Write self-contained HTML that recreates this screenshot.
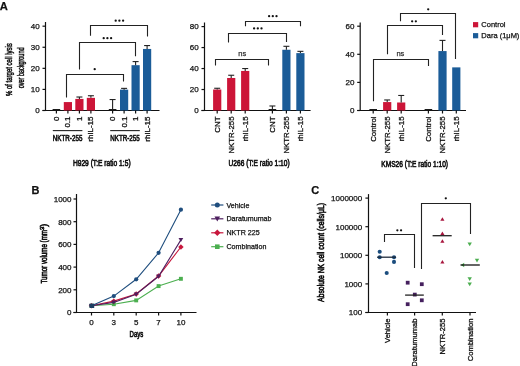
<!DOCTYPE html>
<html><head><meta charset="utf-8"><style>
html,body{margin:0;padding:0;background:#fff;}
svg{display:block;will-change:transform;}
text{font-family:"Liberation Sans",sans-serif;}
</style></head><body>
<svg width="520" height="366" viewBox="0 0 520 366" font-family="Liberation Sans, sans-serif">
<rect width="520" height="366" fill="#fff"/>
<text x="-0.30" y="10.30" font-size="11.2" font-weight="bold" stroke-width="0.25" fill="#111" stroke="#111">A</text>
<text transform="translate(12.40,69.60) rotate(-90)" font-size="8.7" text-anchor="middle" textLength="52.80" lengthAdjust="spacingAndGlyphs" stroke-width="0.5" fill="#111" stroke="#111">% of target cell lysis</text>
<text transform="translate(24.40,67.90) rotate(-90)" font-size="8.7" text-anchor="middle" textLength="40.80" lengthAdjust="spacingAndGlyphs" stroke-width="0.5" fill="#111" stroke="#111">over background</text>
<line x1="45.50" y1="22.00" x2="45.50" y2="110.50" stroke="#111" stroke-width="1.2"/>
<line x1="42.50" y1="110.50" x2="159.50" y2="110.50" stroke="#111" stroke-width="1.2"/>
<line x1="42.50" y1="110.50" x2="45.50" y2="110.50" stroke="#111" stroke-width="1.2"/>
<text x="39.60" y="113.40" font-size="8" text-anchor="end" stroke-width="0.25" fill="#111" stroke="#111">0</text>
<line x1="42.50" y1="89.42" x2="45.50" y2="89.42" stroke="#111" stroke-width="1.2"/>
<text x="39.60" y="92.32" font-size="8" text-anchor="end" stroke-width="0.25" fill="#111" stroke="#111">10</text>
<line x1="42.50" y1="68.34" x2="45.50" y2="68.34" stroke="#111" stroke-width="1.2"/>
<text x="39.60" y="71.24" font-size="8" text-anchor="end" stroke-width="0.25" fill="#111" stroke="#111">20</text>
<line x1="42.50" y1="47.26" x2="45.50" y2="47.26" stroke="#111" stroke-width="1.2"/>
<text x="39.60" y="50.16" font-size="8" text-anchor="end" stroke-width="0.25" fill="#111" stroke="#111">30</text>
<line x1="42.50" y1="26.18" x2="45.50" y2="26.18" stroke="#111" stroke-width="1.2"/>
<text x="39.60" y="29.08" font-size="8" text-anchor="end" stroke-width="0.25" fill="#111" stroke="#111">40</text>
<rect x="52.60" y="109.00" width="7.60" height="1.50" fill="#1a1a1a"/>
<line x1="56.40" y1="110.50" x2="56.40" y2="113.50" stroke="#111" stroke-width="1.2"/>
<rect x="63.80" y="102.07" width="8.20" height="8.43" fill="#cc1538"/>
<line x1="67.90" y1="110.50" x2="67.90" y2="113.50" stroke="#111" stroke-width="1.2"/>
<rect x="75.30" y="98.91" width="8.20" height="11.59" fill="#cc1538"/>
<line x1="79.40" y1="97.01" x2="79.40" y2="98.91" stroke="#222" stroke-width="1.1"/>
<line x1="76.40" y1="97.01" x2="82.40" y2="97.01" stroke="#222" stroke-width="1.1"/>
<line x1="79.40" y1="110.50" x2="79.40" y2="113.50" stroke="#111" stroke-width="1.2"/>
<rect x="86.80" y="97.85" width="8.20" height="12.65" fill="#cc1538"/>
<line x1="90.90" y1="95.74" x2="90.90" y2="97.85" stroke="#222" stroke-width="1.1"/>
<line x1="87.90" y1="95.74" x2="93.90" y2="95.74" stroke="#222" stroke-width="1.1"/>
<line x1="90.90" y1="110.50" x2="90.90" y2="113.50" stroke="#111" stroke-width="1.2"/>
<rect x="108.80" y="109.00" width="7.60" height="1.50" fill="#1a1a1a"/>
<line x1="112.60" y1="99.54" x2="112.60" y2="109.87" stroke="#222" stroke-width="1.1"/>
<line x1="109.60" y1="99.54" x2="115.60" y2="99.54" stroke="#222" stroke-width="1.1"/>
<line x1="112.60" y1="110.50" x2="112.60" y2="113.50" stroke="#111" stroke-width="1.2"/>
<rect x="120.00" y="89.63" width="8.20" height="20.87" fill="#1b5c98"/>
<line x1="124.10" y1="88.37" x2="124.10" y2="89.63" stroke="#222" stroke-width="1.1"/>
<line x1="121.10" y1="88.37" x2="127.10" y2="88.37" stroke="#222" stroke-width="1.1"/>
<line x1="124.10" y1="110.50" x2="124.10" y2="113.50" stroke="#111" stroke-width="1.2"/>
<rect x="131.50" y="65.18" width="8.20" height="45.32" fill="#1b5c98"/>
<line x1="135.60" y1="61.59" x2="135.60" y2="65.18" stroke="#222" stroke-width="1.1"/>
<line x1="132.60" y1="61.59" x2="138.60" y2="61.59" stroke="#222" stroke-width="1.1"/>
<line x1="135.60" y1="110.50" x2="135.60" y2="113.50" stroke="#111" stroke-width="1.2"/>
<rect x="143.00" y="48.95" width="8.20" height="61.55" fill="#1b5c98"/>
<line x1="147.10" y1="45.57" x2="147.10" y2="48.95" stroke="#222" stroke-width="1.1"/>
<line x1="144.10" y1="45.57" x2="150.10" y2="45.57" stroke="#222" stroke-width="1.1"/>
<line x1="147.10" y1="110.50" x2="147.10" y2="113.50" stroke="#111" stroke-width="1.2"/>
<text transform="translate(58.90,116.50) rotate(-90)" font-size="7.95" text-anchor="end" stroke-width="0.3" fill="#111" stroke="#111">0</text>
<text transform="translate(70.40,116.50) rotate(-90)" font-size="7.95" text-anchor="end" stroke-width="0.3" fill="#111" stroke="#111">0.1</text>
<text transform="translate(81.90,116.50) rotate(-90)" font-size="7.95" text-anchor="end" stroke-width="0.3" fill="#111" stroke="#111">1</text>
<text transform="translate(93.40,116.50) rotate(-90)" font-size="7.95" text-anchor="end" stroke-width="0.3" fill="#111" stroke="#111">rhIL-15</text>
<text transform="translate(115.10,116.50) rotate(-90)" font-size="7.95" text-anchor="end" stroke-width="0.3" fill="#111" stroke="#111">0</text>
<text transform="translate(126.60,116.50) rotate(-90)" font-size="7.95" text-anchor="end" stroke-width="0.3" fill="#111" stroke="#111">0.1</text>
<text transform="translate(138.10,116.50) rotate(-90)" font-size="7.95" text-anchor="end" stroke-width="0.3" fill="#111" stroke="#111">1</text>
<text transform="translate(149.60,116.50) rotate(-90)" font-size="7.95" text-anchor="end" stroke-width="0.3" fill="#111" stroke="#111">rhIL-15</text>
<line x1="52.80" y1="130.60" x2="82.40" y2="130.60" stroke="#222" stroke-width="1.1"/>
<line x1="110.20" y1="130.60" x2="139.80" y2="130.60" stroke="#222" stroke-width="1.1"/>
<text x="52.80" y="141.00" font-size="9.0" textLength="29.60" lengthAdjust="spacingAndGlyphs" stroke-width="0.6" fill="#111" stroke="#111">NKTR-255</text>
<text x="110.20" y="141.00" font-size="9.0" textLength="29.60" lengthAdjust="spacingAndGlyphs" stroke-width="0.6" fill="#111" stroke="#111">NKTR-255</text>
<text x="72.90" y="166.20" font-size="9.3" textLength="57.70" lengthAdjust="spacingAndGlyphs" stroke-width="0.65" fill="#111" stroke="#111">H929 (T:E ratio 1:5)</text>
<polyline points="66.50,97.50 66.50,74.50 123.50,74.50 123.50,81.60" fill="none" stroke="#222" stroke-width="1.1"/>
<circle cx="94.70" cy="69.20" r="1.15" fill="#111"/>
<polyline points="79.50,69.40 79.50,42.50 135.50,42.50 135.50,56.20" fill="none" stroke="#222" stroke-width="1.1"/>
<circle cx="103.70" cy="38.20" r="1.15" fill="#111"/>
<circle cx="107.40" cy="38.20" r="1.15" fill="#111"/>
<circle cx="111.10" cy="38.20" r="1.15" fill="#111"/>
<polyline points="90.50,35.80 90.50,25.50 147.50,25.50 147.50,36.50" fill="none" stroke="#222" stroke-width="1.1"/>
<circle cx="115.70" cy="20.70" r="1.15" fill="#111"/>
<circle cx="119.40" cy="20.70" r="1.15" fill="#111"/>
<circle cx="123.10" cy="20.70" r="1.15" fill="#111"/>
<line x1="204.50" y1="22.50" x2="204.50" y2="110.50" stroke="#111" stroke-width="1.2"/>
<line x1="201.50" y1="110.50" x2="310.60" y2="110.50" stroke="#111" stroke-width="1.2"/>
<line x1="201.50" y1="110.50" x2="204.50" y2="110.50" stroke="#111" stroke-width="1.2"/>
<text x="198.60" y="113.40" font-size="8" text-anchor="end" stroke-width="0.25" fill="#111" stroke="#111">0</text>
<line x1="201.50" y1="89.52" x2="204.50" y2="89.52" stroke="#111" stroke-width="1.2"/>
<text x="198.60" y="92.42" font-size="8" text-anchor="end" stroke-width="0.25" fill="#111" stroke="#111">20</text>
<line x1="201.50" y1="68.54" x2="204.50" y2="68.54" stroke="#111" stroke-width="1.2"/>
<text x="198.60" y="71.44" font-size="8" text-anchor="end" stroke-width="0.25" fill="#111" stroke="#111">40</text>
<line x1="201.50" y1="47.56" x2="204.50" y2="47.56" stroke="#111" stroke-width="1.2"/>
<text x="198.60" y="50.46" font-size="8" text-anchor="end" stroke-width="0.25" fill="#111" stroke="#111">60</text>
<line x1="201.50" y1="26.58" x2="204.50" y2="26.58" stroke="#111" stroke-width="1.2"/>
<text x="198.60" y="29.48" font-size="8" text-anchor="end" stroke-width="0.25" fill="#111" stroke="#111">80</text>
<rect x="213.10" y="89.52" width="8.20" height="20.98" fill="#cc1538"/>
<line x1="217.20" y1="88.26" x2="217.20" y2="89.52" stroke="#222" stroke-width="1.1"/>
<line x1="214.20" y1="88.26" x2="220.20" y2="88.26" stroke="#222" stroke-width="1.1"/>
<line x1="217.20" y1="110.50" x2="217.20" y2="113.50" stroke="#111" stroke-width="1.2"/>
<rect x="227.10" y="77.98" width="8.20" height="32.52" fill="#cc1538"/>
<line x1="231.20" y1="75.25" x2="231.20" y2="77.98" stroke="#222" stroke-width="1.1"/>
<line x1="228.20" y1="75.25" x2="234.20" y2="75.25" stroke="#222" stroke-width="1.1"/>
<line x1="231.20" y1="110.50" x2="231.20" y2="113.50" stroke="#111" stroke-width="1.2"/>
<rect x="241.10" y="70.95" width="8.20" height="39.55" fill="#cc1538"/>
<line x1="245.20" y1="68.54" x2="245.20" y2="70.95" stroke="#222" stroke-width="1.1"/>
<line x1="242.20" y1="68.54" x2="248.20" y2="68.54" stroke="#222" stroke-width="1.1"/>
<line x1="245.20" y1="110.50" x2="245.20" y2="113.50" stroke="#111" stroke-width="1.2"/>
<rect x="268.60" y="109.00" width="7.60" height="1.50" fill="#1a1a1a"/>
<line x1="272.40" y1="105.99" x2="272.40" y2="109.45" stroke="#222" stroke-width="1.1"/>
<line x1="269.40" y1="105.99" x2="275.40" y2="105.99" stroke="#222" stroke-width="1.1"/>
<line x1="272.40" y1="110.50" x2="272.40" y2="113.50" stroke="#111" stroke-width="1.2"/>
<rect x="282.30" y="49.76" width="8.20" height="60.74" fill="#1b5c98"/>
<line x1="286.40" y1="46.30" x2="286.40" y2="49.76" stroke="#222" stroke-width="1.1"/>
<line x1="283.40" y1="46.30" x2="289.40" y2="46.30" stroke="#222" stroke-width="1.1"/>
<line x1="286.40" y1="110.50" x2="286.40" y2="113.50" stroke="#111" stroke-width="1.2"/>
<rect x="296.30" y="53.12" width="8.20" height="57.38" fill="#1b5c98"/>
<line x1="300.40" y1="51.34" x2="300.40" y2="53.12" stroke="#222" stroke-width="1.1"/>
<line x1="297.40" y1="51.34" x2="303.40" y2="51.34" stroke="#222" stroke-width="1.1"/>
<line x1="300.40" y1="110.50" x2="300.40" y2="113.50" stroke="#111" stroke-width="1.2"/>
<text transform="translate(220.00,116.50) rotate(-90)" font-size="7.85" text-anchor="end" stroke-width="0.3" fill="#111" stroke="#111">CNT</text>
<text transform="translate(234.00,116.50) rotate(-90)" font-size="7.85" text-anchor="end" stroke-width="0.3" fill="#111" stroke="#111">NKTR-255</text>
<text transform="translate(248.00,116.50) rotate(-90)" font-size="7.85" text-anchor="end" stroke-width="0.3" fill="#111" stroke="#111">rhIL-15</text>
<text transform="translate(275.20,116.50) rotate(-90)" font-size="7.85" text-anchor="end" stroke-width="0.3" fill="#111" stroke="#111">CNT</text>
<text transform="translate(289.20,116.50) rotate(-90)" font-size="7.85" text-anchor="end" stroke-width="0.3" fill="#111" stroke="#111">NKTR-255</text>
<text transform="translate(303.20,116.50) rotate(-90)" font-size="7.85" text-anchor="end" stroke-width="0.3" fill="#111" stroke="#111">rhIL-15</text>
<text x="228.50" y="166.40" font-size="9.3" textLength="61.10" lengthAdjust="spacingAndGlyphs" stroke-width="0.65" fill="#111" stroke="#111">U266 (T:E ratio 1:10)</text>
<polyline points="215.50,65.50 215.50,59.50 268.50,59.50 268.50,65.50" fill="none" stroke="#222" stroke-width="1.1"/>
<text x="242.20" y="55.60" font-size="7.5" text-anchor="middle" stroke-width="0.25" fill="#333" stroke="#333">ns</text>
<polyline points="228.50,42.60 228.50,33.50 286.50,33.50 286.50,42.00" fill="none" stroke="#222" stroke-width="1.1"/>
<circle cx="254.10" cy="28.40" r="1.15" fill="#111"/>
<circle cx="257.80" cy="28.40" r="1.15" fill="#111"/>
<circle cx="261.50" cy="28.40" r="1.15" fill="#111"/>
<polyline points="245.50,26.20 245.50,21.50 300.50,21.50 300.50,26.20" fill="none" stroke="#222" stroke-width="1.1"/>
<circle cx="269.10" cy="16.20" r="1.15" fill="#111"/>
<circle cx="272.80" cy="16.20" r="1.15" fill="#111"/>
<circle cx="276.50" cy="16.20" r="1.15" fill="#111"/>
<line x1="360.20" y1="22.50" x2="360.20" y2="110.50" stroke="#111" stroke-width="1.2"/>
<line x1="357.20" y1="110.50" x2="466.00" y2="110.50" stroke="#111" stroke-width="1.2"/>
<line x1="357.20" y1="110.50" x2="360.20" y2="110.50" stroke="#111" stroke-width="1.2"/>
<text x="354.40" y="113.40" font-size="8" text-anchor="end" stroke-width="0.25" fill="#111" stroke="#111">0</text>
<line x1="357.20" y1="82.40" x2="360.20" y2="82.40" stroke="#111" stroke-width="1.2"/>
<text x="354.40" y="85.30" font-size="8" text-anchor="end" stroke-width="0.25" fill="#111" stroke="#111">20</text>
<line x1="357.20" y1="54.30" x2="360.20" y2="54.30" stroke="#111" stroke-width="1.2"/>
<text x="354.40" y="57.20" font-size="8" text-anchor="end" stroke-width="0.25" fill="#111" stroke="#111">40</text>
<line x1="357.20" y1="26.20" x2="360.20" y2="26.20" stroke="#111" stroke-width="1.2"/>
<text x="354.40" y="29.10" font-size="8" text-anchor="end" stroke-width="0.25" fill="#111" stroke="#111">60</text>
<rect x="369.40" y="109.00" width="7.60" height="1.50" fill="#1a1a1a"/>
<line x1="373.20" y1="110.50" x2="373.20" y2="113.50" stroke="#111" stroke-width="1.2"/>
<rect x="383.10" y="102.07" width="8.20" height="8.43" fill="#cc1538"/>
<line x1="387.20" y1="99.96" x2="387.20" y2="102.07" stroke="#222" stroke-width="1.1"/>
<line x1="384.20" y1="99.96" x2="390.20" y2="99.96" stroke="#222" stroke-width="1.1"/>
<line x1="387.20" y1="110.50" x2="387.20" y2="113.50" stroke="#111" stroke-width="1.2"/>
<rect x="397.10" y="102.49" width="8.20" height="8.01" fill="#cc1538"/>
<line x1="401.20" y1="95.47" x2="401.20" y2="102.49" stroke="#222" stroke-width="1.1"/>
<line x1="398.20" y1="95.47" x2="404.20" y2="95.47" stroke="#222" stroke-width="1.1"/>
<line x1="401.20" y1="110.50" x2="401.20" y2="113.50" stroke="#111" stroke-width="1.2"/>
<rect x="424.60" y="109.00" width="7.60" height="1.50" fill="#1a1a1a"/>
<line x1="428.40" y1="110.50" x2="428.40" y2="113.50" stroke="#111" stroke-width="1.2"/>
<rect x="438.40" y="51.07" width="8.20" height="59.43" fill="#1b5c98"/>
<line x1="442.50" y1="40.39" x2="442.50" y2="51.07" stroke="#222" stroke-width="1.1"/>
<line x1="439.50" y1="40.39" x2="445.50" y2="40.39" stroke="#222" stroke-width="1.1"/>
<line x1="442.50" y1="110.50" x2="442.50" y2="113.50" stroke="#111" stroke-width="1.2"/>
<rect x="452.20" y="67.37" width="8.20" height="43.13" fill="#1b5c98"/>
<line x1="456.30" y1="110.50" x2="456.30" y2="113.50" stroke="#111" stroke-width="1.2"/>
<text transform="translate(376.00,116.50) rotate(-90)" font-size="7.85" text-anchor="end" stroke-width="0.3" fill="#111" stroke="#111">Control</text>
<text transform="translate(390.00,116.50) rotate(-90)" font-size="7.85" text-anchor="end" stroke-width="0.3" fill="#111" stroke="#111">NKTR-255</text>
<text transform="translate(404.00,116.50) rotate(-90)" font-size="7.85" text-anchor="end" stroke-width="0.3" fill="#111" stroke="#111">rhIL-15</text>
<text transform="translate(431.20,116.50) rotate(-90)" font-size="7.85" text-anchor="end" stroke-width="0.3" fill="#111" stroke="#111">Control</text>
<text transform="translate(445.30,116.50) rotate(-90)" font-size="7.85" text-anchor="end" stroke-width="0.3" fill="#111" stroke="#111">NKTR-255</text>
<text transform="translate(459.10,116.50) rotate(-90)" font-size="7.85" text-anchor="end" stroke-width="0.3" fill="#111" stroke="#111">rhIL-15</text>
<text x="381.30" y="166.60" font-size="9.3" textLength="66.70" lengthAdjust="spacingAndGlyphs" stroke-width="0.65" fill="#111" stroke="#111">KMS26 (T:E ratio 1:10)</text>
<polyline points="373.50,101.20 373.50,59.50 428.50,59.50 428.50,66.00" fill="none" stroke="#222" stroke-width="1.1"/>
<text x="400.40" y="55.60" font-size="7.5" text-anchor="middle" stroke-width="0.25" fill="#333" stroke="#333">ns</text>
<polyline points="387.50,54.20 387.50,25.50 442.50,25.50 442.50,35.00" fill="none" stroke="#222" stroke-width="1.1"/>
<circle cx="412.15" cy="21.30" r="1.15" fill="#111"/>
<circle cx="415.85" cy="21.30" r="1.15" fill="#111"/>
<polyline points="400.50,21.20 400.50,13.50 455.50,13.50 455.50,59.00" fill="none" stroke="#222" stroke-width="1.1"/>
<circle cx="428.20" cy="9.30" r="1.15" fill="#111"/>
<rect x="473.00" y="22.10" width="5.20" height="5.20" fill="#cc1538"/>
<rect x="473.00" y="33.10" width="5.20" height="5.20" fill="#1b5c98"/>
<text x="481.30" y="27.10" font-size="7.5" stroke-width="0.25" fill="#111" stroke="#111">Control</text>
<text x="481.30" y="38.00" font-size="7.5" stroke-width="0.25" fill="#111" stroke="#111">Dara (1&#956;M)</text>
<text x="31.50" y="194.20" font-size="11" font-weight="bold" stroke-width="0.25" fill="#111" stroke="#111">B</text>
<line x1="76.50" y1="194.00" x2="76.50" y2="312.50" stroke="#111" stroke-width="1.2"/>
<line x1="73.50" y1="312.50" x2="196.50" y2="312.50" stroke="#111" stroke-width="1.2"/>
<line x1="73.50" y1="312.50" x2="76.50" y2="312.50" stroke="#111" stroke-width="1.2"/>
<text x="71.50" y="315.40" font-size="8" text-anchor="end" stroke-width="0.25" fill="#111" stroke="#111">0</text>
<line x1="73.50" y1="289.80" x2="76.50" y2="289.80" stroke="#111" stroke-width="1.2"/>
<text x="71.50" y="292.70" font-size="8" text-anchor="end" stroke-width="0.25" fill="#111" stroke="#111">200</text>
<line x1="73.50" y1="267.10" x2="76.50" y2="267.10" stroke="#111" stroke-width="1.2"/>
<text x="71.50" y="270.00" font-size="8" text-anchor="end" stroke-width="0.25" fill="#111" stroke="#111">400</text>
<line x1="73.50" y1="244.40" x2="76.50" y2="244.40" stroke="#111" stroke-width="1.2"/>
<text x="71.50" y="247.30" font-size="8" text-anchor="end" stroke-width="0.25" fill="#111" stroke="#111">600</text>
<line x1="73.50" y1="221.70" x2="76.50" y2="221.70" stroke="#111" stroke-width="1.2"/>
<text x="71.50" y="224.60" font-size="8" text-anchor="end" stroke-width="0.25" fill="#111" stroke="#111">800</text>
<line x1="73.50" y1="199.00" x2="76.50" y2="199.00" stroke="#111" stroke-width="1.2"/>
<text x="71.50" y="201.90" font-size="8" text-anchor="end" stroke-width="0.25" fill="#111" stroke="#111">1000</text>
<line x1="91.50" y1="312.50" x2="91.50" y2="315.50" stroke="#111" stroke-width="1.2"/>
<text x="91.50" y="324.60" font-size="8" text-anchor="middle" stroke-width="0.25" fill="#111" stroke="#111">0</text>
<line x1="113.80" y1="312.50" x2="113.80" y2="315.50" stroke="#111" stroke-width="1.2"/>
<text x="113.80" y="324.60" font-size="8" text-anchor="middle" stroke-width="0.25" fill="#111" stroke="#111">3</text>
<line x1="136.20" y1="312.50" x2="136.20" y2="315.50" stroke="#111" stroke-width="1.2"/>
<text x="136.20" y="324.60" font-size="8" text-anchor="middle" stroke-width="0.25" fill="#111" stroke="#111">5</text>
<line x1="158.60" y1="312.50" x2="158.60" y2="315.50" stroke="#111" stroke-width="1.2"/>
<text x="158.60" y="324.60" font-size="8" text-anchor="middle" stroke-width="0.25" fill="#111" stroke="#111">7</text>
<line x1="180.90" y1="312.50" x2="180.90" y2="315.50" stroke="#111" stroke-width="1.2"/>
<text x="180.90" y="324.60" font-size="8" text-anchor="middle" stroke-width="0.25" fill="#111" stroke="#111">10</text>
<text x="129.60" y="336.80" font-size="9.2" textLength="13.80" lengthAdjust="spacingAndGlyphs" stroke-width="0.65" fill="#111" stroke="#111">Days</text>
<text transform="translate(47.4,283.5) rotate(-90)" font-size="9" fill="#111" stroke="#111" stroke-width="0.65"><tspan textLength="53.5" lengthAdjust="spacingAndGlyphs">Tumor volume (mm</tspan><tspan font-size="6" dy="-3.5">3</tspan><tspan dy="3.5">)</tspan></text>
<polyline points="91.50,305.80 113.80,304.20 136.20,300.40 158.60,286.10 180.90,278.80" fill="none" stroke="#4caf50" stroke-width="1.1"/>
<rect x="89.55" y="303.85" width="3.91" height="3.91" fill="#4caf50"/>
<rect x="111.84" y="302.25" width="3.91" height="3.91" fill="#4caf50"/>
<rect x="134.24" y="298.44" width="3.91" height="3.91" fill="#4caf50"/>
<rect x="156.64" y="284.15" width="3.91" height="3.91" fill="#4caf50"/>
<rect x="178.94" y="276.85" width="3.91" height="3.91" fill="#4caf50"/>
<polyline points="91.50,305.80 113.80,301.10 136.20,294.00 158.60,276.00 180.90,247.00" fill="none" stroke="#c8173c" stroke-width="1.1"/>
<polygon points="91.50,303.08 94.22,305.80 91.50,308.52 88.78,305.80" fill="#c8173c"/>
<polygon points="113.80,298.38 116.52,301.10 113.80,303.82 111.08,301.10" fill="#c8173c"/>
<polygon points="136.20,291.28 138.92,294.00 136.20,296.72 133.48,294.00" fill="#c8173c"/>
<polygon points="158.60,273.28 161.32,276.00 158.60,278.72 155.88,276.00" fill="#c8173c"/>
<polygon points="180.90,244.28 183.62,247.00 180.90,249.72 178.18,247.00" fill="#c8173c"/>
<polyline points="91.50,305.80 113.80,302.40 136.20,294.30 158.60,276.30 180.90,239.90" fill="none" stroke="#4f2060" stroke-width="1.1"/>
<polygon points="89.12,303.93 93.88,303.93 91.50,308.01" fill="#4f2060"/>
<polygon points="111.42,300.53 116.18,300.53 113.80,304.61" fill="#4f2060"/>
<polygon points="133.82,292.43 138.58,292.43 136.20,296.51" fill="#4f2060"/>
<polygon points="156.22,274.43 160.98,274.43 158.60,278.51" fill="#4f2060"/>
<polygon points="178.52,238.03 183.28,238.03 180.90,242.11" fill="#4f2060"/>
<polyline points="91.50,305.80 113.80,296.10 136.20,279.30 158.60,252.80 180.90,209.70" fill="none" stroke="#1f4e7e" stroke-width="1.1"/>
<circle cx="91.50" cy="305.80" r="2.12" fill="#1f4e7e"/>
<circle cx="113.80" cy="296.10" r="2.12" fill="#1f4e7e"/>
<circle cx="136.20" cy="279.30" r="2.12" fill="#1f4e7e"/>
<circle cx="158.60" cy="252.80" r="2.12" fill="#1f4e7e"/>
<circle cx="180.90" cy="209.70" r="2.12" fill="#1f4e7e"/>
<rect x="89.6" y="303.6" width="4.6" height="4.4" fill="#1d3f62"/>
<line x1="211.20" y1="205.00" x2="223.40" y2="205.00" stroke="#1f4e7e" stroke-width="1.2"/>
<circle cx="217.30" cy="205.00" r="2.50" fill="#1f4e7e"/>
<text x="226.50" y="207.60" font-size="7.1" stroke-width="0.25" fill="#111" stroke="#111">Vehicle</text>
<line x1="211.20" y1="218.80" x2="223.40" y2="218.80" stroke="#4f2060" stroke-width="1.2"/>
<polygon points="214.50,216.60 220.10,216.60 217.30,221.40" fill="#4f2060"/>
<text x="226.50" y="221.40" font-size="7.1" stroke-width="0.25" fill="#111" stroke="#111">Daratumumab</text>
<line x1="211.20" y1="232.80" x2="223.40" y2="232.80" stroke="#c8173c" stroke-width="1.2"/>
<polygon points="217.30,229.60 220.50,232.80 217.30,236.00 214.10,232.80" fill="#c8173c"/>
<text x="226.50" y="235.40" font-size="7.1" stroke-width="0.25" fill="#111" stroke="#111">NKTR 225</text>
<line x1="211.20" y1="246.70" x2="223.40" y2="246.70" stroke="#4caf50" stroke-width="1.2"/>
<rect x="215.00" y="244.40" width="4.60" height="4.60" fill="#4caf50"/>
<text x="226.50" y="249.30" font-size="7.1" stroke-width="0.25" fill="#111" stroke="#111">Combination</text>
<text x="311.30" y="194.20" font-size="11" font-weight="bold" stroke-width="0.25" fill="#111" stroke="#111">C</text>
<line x1="368.50" y1="194.10" x2="368.50" y2="312.50" stroke="#111" stroke-width="1.2"/>
<line x1="365.40" y1="312.50" x2="476.00" y2="312.50" stroke="#111" stroke-width="1.2"/>
<line x1="365.40" y1="312.50" x2="368.50" y2="312.50" stroke="#111" stroke-width="1.2"/>
<text x="362.20" y="315.40" font-size="8" text-anchor="end" stroke-width="0.25" fill="#111" stroke="#111">100</text>
<line x1="365.40" y1="283.90" x2="368.50" y2="283.90" stroke="#111" stroke-width="1.2"/>
<text x="362.20" y="286.80" font-size="8" text-anchor="end" stroke-width="0.25" fill="#111" stroke="#111">1000</text>
<line x1="365.40" y1="255.30" x2="368.50" y2="255.30" stroke="#111" stroke-width="1.2"/>
<text x="362.20" y="258.20" font-size="8" text-anchor="end" stroke-width="0.25" fill="#111" stroke="#111">10000</text>
<line x1="365.40" y1="226.70" x2="368.50" y2="226.70" stroke="#111" stroke-width="1.2"/>
<text x="362.20" y="229.60" font-size="8" text-anchor="end" stroke-width="0.25" fill="#111" stroke="#111">100000</text>
<line x1="365.40" y1="198.10" x2="368.50" y2="198.10" stroke="#111" stroke-width="1.2"/>
<text x="362.20" y="201.00" font-size="8" text-anchor="end" stroke-width="0.25" fill="#111" stroke="#111">1000000</text>
<line x1="387.40" y1="312.50" x2="387.40" y2="315.50" stroke="#111" stroke-width="1.2"/>
<text transform="translate(390.20,318.50) rotate(-90)" font-size="7.6" text-anchor="end" stroke-width="0.3" fill="#111" stroke="#111">Vehicle</text>
<line x1="414.60" y1="312.50" x2="414.60" y2="315.50" stroke="#111" stroke-width="1.2"/>
<text transform="translate(417.40,318.50) rotate(-90)" font-size="7.6" text-anchor="end" stroke-width="0.3" fill="#111" stroke="#111">Daratumumab</text>
<line x1="442.30" y1="312.50" x2="442.30" y2="315.50" stroke="#111" stroke-width="1.2"/>
<text transform="translate(445.10,318.50) rotate(-90)" font-size="7.6" text-anchor="end" stroke-width="0.3" fill="#111" stroke="#111">NKTR-255</text>
<line x1="470.00" y1="312.50" x2="470.00" y2="315.50" stroke="#111" stroke-width="1.2"/>
<text transform="translate(472.80,318.50) rotate(-90)" font-size="7.6" text-anchor="end" stroke-width="0.3" fill="#111" stroke="#111">Combination</text>
<text transform="translate(324.10,252.50) rotate(-90)" font-size="8.8" text-anchor="middle" textLength="99.00" lengthAdjust="spacingAndGlyphs" stroke-width="0.65" fill="#111" stroke="#111">Absolute NK cell count (cells/&#956;L)</text>
<circle cx="379.70" cy="251.80" r="2.05" fill="#1b4d7e"/>
<circle cx="379.70" cy="257.30" r="2.05" fill="#1b4d7e"/>
<circle cx="394.00" cy="257.30" r="2.05" fill="#1b4d7e"/>
<circle cx="394.00" cy="261.90" r="2.05" fill="#1b4d7e"/>
<circle cx="386.70" cy="273.00" r="2.05" fill="#1b4d7e"/>
<line x1="377.10" y1="257.20" x2="396.00" y2="257.20" stroke="#1d2a3a" stroke-width="1.3"/>
<rect x="405.81" y="280.81" width="3.77" height="3.77" fill="#45205e"/>
<rect x="419.91" y="282.31" width="3.77" height="3.77" fill="#45205e"/>
<rect x="412.91" y="292.71" width="3.77" height="3.77" fill="#45205e"/>
<rect x="419.91" y="298.41" width="3.77" height="3.77" fill="#45205e"/>
<rect x="405.81" y="302.31" width="3.77" height="3.77" fill="#45205e"/>
<line x1="405.10" y1="295.10" x2="423.80" y2="295.10" stroke="#222" stroke-width="1.3"/>
<polygon points="440.35,220.74 444.45,220.74 442.40,217.13" fill="#a8163e"/>
<polygon points="440.35,235.04 444.45,235.04 442.40,231.43" fill="#a8163e"/>
<polygon points="440.35,242.74 444.45,242.74 442.40,239.13" fill="#a8163e"/>
<polygon points="440.35,263.54 444.45,263.54 442.40,259.93" fill="#a8163e"/>
<line x1="432.60" y1="235.70" x2="451.70" y2="235.70" stroke="#222" stroke-width="1.3"/>
<polygon points="467.52,242.58 471.88,242.58 469.70,246.33" fill="#4cae50"/>
<polygon points="474.82,258.68 479.18,258.68 477.00,262.43" fill="#4cae50"/>
<polygon points="467.52,277.18 471.88,277.18 469.70,280.93" fill="#4cae50"/>
<polygon points="467.52,282.48 471.88,282.48 469.70,286.23" fill="#4cae50"/>
<polygon points="461.0,265 464.2,262.8 464.2,267.2" fill="#4cae50"/>
<line x1="460.50" y1="265.00" x2="479.80" y2="265.00" stroke="#111" stroke-width="1.3"/>
<polyline points="384.50,241.90 384.50,234.50 414.50,234.50 414.50,267.90" fill="none" stroke="#222" stroke-width="1.1"/>
<circle cx="397.35" cy="230.30" r="1.15" fill="#111"/>
<circle cx="401.05" cy="230.30" r="1.15" fill="#111"/>
<polyline points="421.50,268.90 421.50,203.50 470.50,203.50 470.50,233.90" fill="none" stroke="#222" stroke-width="1.1"/>
<circle cx="445.80" cy="198.30" r="1.15" fill="#111"/>
</svg></body></html>
